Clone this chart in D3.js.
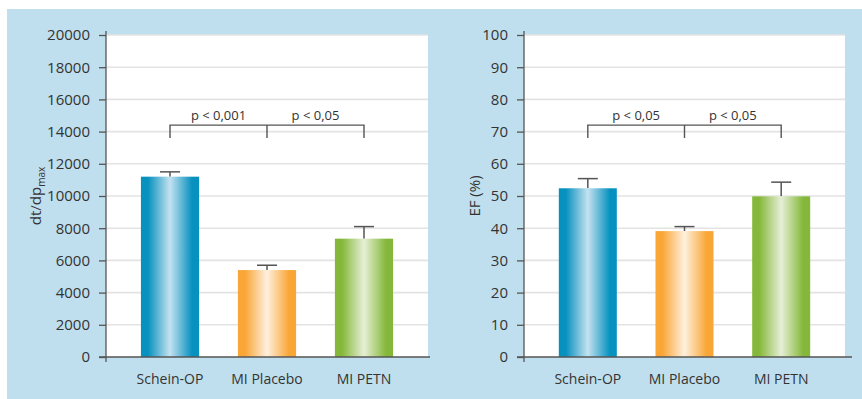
<!DOCTYPE html>
<html><head><meta charset="utf-8">
<script src="https://cdn.jsdelivr.net/npm/d3@7"></script>
<style>
html,body{margin:0;padding:0;background:#fff;}
svg{display:block;}
text{font-family:"Open Sans","Noto Sans",sans-serif;fill:#333;}
</style></head>
<body>
<svg id="c" width="862" height="399"></svg>
<script>
// ---- data ----
const categories = ["Schein-OP", "MI Placebo", "MI PETN"];
const dtValues = [11200, 5400, 7350];
const dtErrors = [300, 300, 750];
const dtTicks = [0, 2000, 4000, 6000, 8000, 10000, 12000, 14000, 16000, 18000, 20000];
const efValues = [52.4, 39.1, 49.9];
const efErrors = [3.0, 1.4, 4.4];
const efTicks = [0, 10, 20, 30, 40, 50, 60, 70, 80, 90, 100];
const dtPLabels = ["p < 0,001", "p < 0,05"];
const efPLabels = ["p < 0,05", "p < 0,05"];
const dtBracket = [14400, 13600];   // bracket level, tick bottom (data units)
const efBracket = [72, 68];

const colors = [
  {edge:"#0791bf", mid:"#c4e2f0"},
  {edge:"#f9a636", mid:"#fff0de"},
  {edge:"#85b83a", mid:"#e6efd6"}
];

const svg = d3.select("#c");
svg.append("rect").attr("x",7).attr("y",9).attr("width",855).attr("height",390).attr("fill","#c0dfee");

const defs = svg.append("defs");
colors.forEach((c,i)=>{
  const g = defs.append("linearGradient").attr("id","g"+i).attr("x1","0%").attr("x2","100%").attr("y1","0%").attr("y2","0%");
  g.append("stop").attr("offset","0%").attr("stop-color",c.edge);
  g.append("stop").attr("offset","12%").attr("stop-color",c.edge);
  g.append("stop").attr("offset","50%").attr("stop-color",c.mid);
  g.append("stop").attr("offset","88%").attr("stop-color",c.edge);
  g.append("stop").attr("offset","100%").attr("stop-color",c.edge);
});

function chart(opt){
  const {x0,x1,y0,y1,values,errors,ticks,max,plabels,bracket,title,sub,titleX,axisEnd} = opt;
  const g = svg.append("g");
  g.append("rect").attr("x",x0).attr("y",y0).attr("width",x1-x0).attr("height",y1-y0).attr("fill","#fff");
  const y = d3.scaleLinear().domain([0,max]).range([y1,y0]);
  const x = d3.scaleBand().domain(categories).range([x0,x1]).paddingInner(0.4).paddingOuter(0.36);

  // grid
  g.selectAll("line.grid").data(ticks.filter(t=>t>0)).join("line")
    .attr("x1",x0).attr("x2",x1).attr("y1",d=>y(d)).attr("y2",d=>y(d))
    .attr("stroke","#e3e3e3").attr("stroke-width",1.6);

  // error bars
  const eb = g.selectAll("g.err").data(categories).join("g");
  eb.append("line").attr("x1",d=>x(d)+x.bandwidth()/2).attr("x2",d=>x(d)+x.bandwidth()/2)
    .attr("y1",(d,i)=>y(values[i])).attr("y2",(d,i)=>y(values[i]+errors[i]))
    .attr("stroke","#555").attr("stroke-width",1.5);
  eb.append("line").attr("x1",d=>x(d)+x.bandwidth()/2-10).attr("x2",d=>x(d)+x.bandwidth()/2+10)
    .attr("y1",(d,i)=>y(values[i]+errors[i])).attr("y2",(d,i)=>y(values[i]+errors[i]))
    .attr("stroke","#555").attr("stroke-width",1.5);

  // bars
  g.selectAll("rect.bar").data(categories).join("rect")
    .attr("x",d=>x(d)).attr("width",x.bandwidth())
    .attr("y",(d,i)=>y(values[i])).attr("height",(d,i)=>y(0)-y(values[i]))
    .attr("fill",(d,i)=>"url(#g"+i+")");

  // y axis
  const ax = g.append("g").attr("transform",`translate(${x0},0)`)
    .call(d3.axisLeft(y).tickValues(ticks).tickSize(7).tickPadding(9).tickFormat(d3.format("d")));
  ax.select(".domain").remove();
  ax.selectAll(".tick line").attr("stroke","#555").attr("stroke-width",1.3);
  ax.selectAll(".tick text").attr("font-size",15).attr("fill","#333")
    .style("font-family",'"Open Sans","Noto Sans",sans-serif');
  g.append("line").attr("x1",x0).attr("x2",x0).attr("y1",y0-4).attr("y2",y1+5)
    .attr("stroke","#555").attr("stroke-width",1.3);
  g.append("line").attr("x1",x0-7).attr("x2",axisEnd).attr("y1",y1).attr("y2",y1)
    .attr("stroke","#555").attr("stroke-width",1.6);

  // x labels
  g.selectAll("text.cat").data(categories).join("text")
    .attr("x",d=>x(d)+x.bandwidth()/2).attr("y",y1+27).attr("text-anchor","middle")
    .attr("font-size",14).text(d=>d);

  // brackets
  const cx = categories.map(c=>x(c)+x.bandwidth()/2);
  const by = y(bracket[0]), bt = y(bracket[1]);
  g.append("path").attr("d",`M${cx[0]},${bt}V${by}H${cx[2]}V${bt}M${cx[1]},${by}V${bt}`)
    .attr("fill","none").attr("stroke","#555").attr("stroke-width",1.4);
  plabels.forEach((p,i)=>{
    g.append("text").attr("x",(cx[i]+cx[i+1])/2).attr("y",by-5).attr("text-anchor","middle")
      .attr("font-size",13).text(p);
  });

  // title
  const t = g.append("text").attr("transform",`translate(${titleX},${(y0+y1)/2}) rotate(-90)`)
    .attr("text-anchor","middle").attr("font-size",15);
  t.append("tspan").text(title);
  if(sub) t.append("tspan").attr("font-size",10).attr("dy",4).text(sub);
}

chart({x0:106,x1:428,y0:35,y1:357,values:dtValues,errors:dtErrors,ticks:dtTicks,max:20000,
  plabels:dtPLabels,bracket:dtBracket,title:"dt/dp",sub:"max",titleX:41,axisEnd:430});
chart({x0:524,x1:845,y0:35,y1:357,values:efValues,errors:efErrors,ticks:efTicks,max:100,
  plabels:efPLabels,bracket:efBracket,title:"EF (%)",sub:null,titleX:480,axisEnd:852});
</script>
</body></html>
